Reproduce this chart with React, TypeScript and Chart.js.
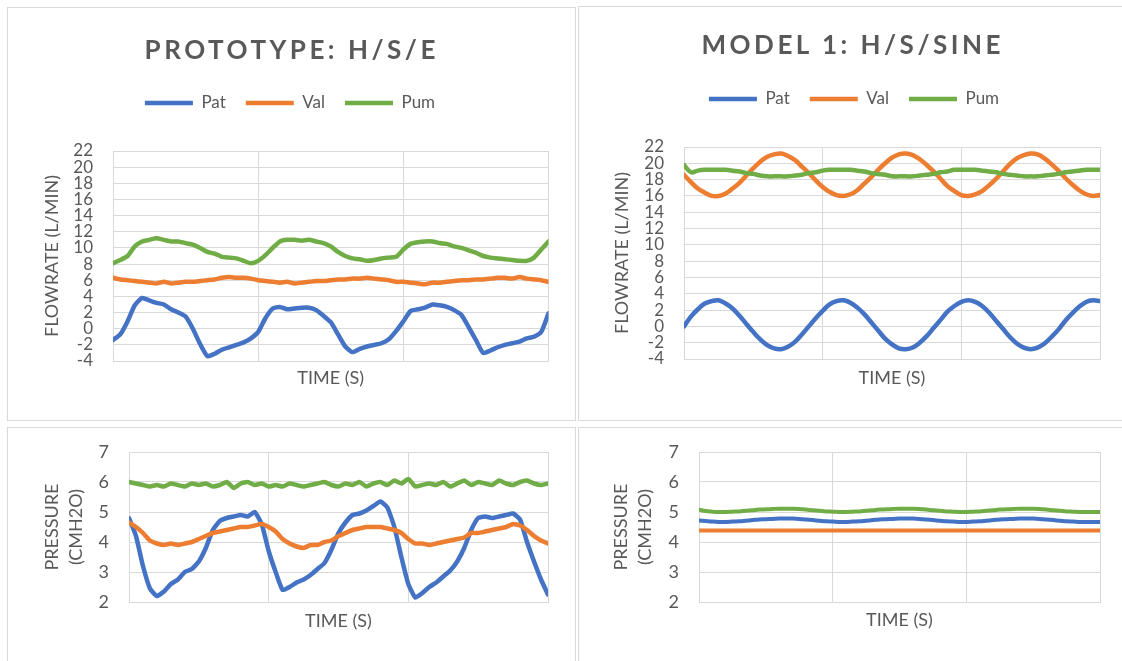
import React, { useEffect, useRef } from 'react';
import { Chart, registerables } from 'chart.js';

Chart.register(...registerables);

const FONT = 'Lato, "Open Sans", sans-serif';
const TEXT = '#595959';
const GRID = '#d9d9d9';
const COLORS = ['#4472C4', '#ED7D31', '#70AD47'];

// ---- data ----
const SERIES_NAMES = ['Pat', 'Val', 'Pum'];
const TIME_STEPS = Array.from({ length: 61 }, (_, i) => i);

const FLOW_MIN = -4, FLOW_MAX = 22, FLOW_STEP = 2;
const PRES_MIN = 2, PRES_MAX = 7, PRES_STEP = 1;

const PROTO_FLOW_PAT = [-1.4, -0.7, 0.9, 2.9, 3.8, 3.5, 3.2, 3.0, 2.4, 2.0, 1.5, 0.0, -1.9, -3.4, -3.1, -2.6, -2.3, -2.0, -1.7, -1.2, -0.4, 1.3, 2.5, 2.7, 2.4, 2.5, 2.6, 2.6, 2.3, 1.6, 0.8, -0.7, -2.2, -2.9, -2.5, -2.2, -2.0, -1.8, -1.3, -0.3, 0.9, 2.2, 2.4, 2.6, 3.0, 2.9, 2.7, 2.3, 1.7, 0.2, -1.4, -3.0, -2.7, -2.3, -2.0, -1.8, -1.6, -1.2, -1.0, -0.4, 1.9];
const PROTO_FLOW_VAL = [6.3, 6.1, 6.0, 5.9, 5.8, 5.7, 5.6, 5.8, 5.6, 5.7, 5.8, 5.8, 5.9, 6.0, 6.1, 6.3, 6.4, 6.3, 6.3, 6.2, 6.0, 5.9, 5.8, 5.7, 5.8, 5.6, 5.7, 5.8, 5.9, 5.9, 6.0, 6.1, 6.1, 6.2, 6.2, 6.3, 6.2, 6.1, 6.0, 5.8, 5.8, 5.7, 5.6, 5.5, 5.7, 5.7, 5.8, 5.9, 6.0, 6.0, 6.1, 6.1, 6.2, 6.3, 6.3, 6.2, 6.4, 6.2, 6.1, 6.0, 5.8];
const PROTO_FLOW_PUM = [8.1, 8.5, 9.0, 10.2, 10.8, 11.0, 11.2, 11.0, 10.8, 10.8, 10.6, 10.4, 10.0, 9.5, 9.3, 8.9, 8.8, 8.7, 8.4, 8.1, 8.4, 9.1, 10.0, 10.8, 11.0, 11.0, 10.9, 11.0, 10.8, 10.6, 10.2, 9.5, 9.0, 8.7, 8.6, 8.4, 8.5, 8.7, 8.8, 8.9, 9.8, 10.5, 10.7, 10.8, 10.8, 10.6, 10.5, 10.2, 10.0, 9.7, 9.4, 9.0, 8.8, 8.7, 8.6, 8.5, 8.4, 8.4, 8.8, 9.8, 10.8];

const MODEL_FLOW_PAT = [0.0, 1.2, 2.1, 2.8, 3.1, 3.2, 2.8, 2.2, 1.3, 0.3, -0.7, -1.6, -2.3, -2.7, -2.8, -2.5, -1.9, -1.0, 0.0, 1.0, 1.9, 2.7, 3.1, 3.2, 2.9, 2.3, 1.5, 0.5, -0.5, -1.5, -2.2, -2.7, -2.8, -2.6, -2.0, -1.2, -0.2, 0.8, 1.8, 2.5, 3.0, 3.2, 3.0, 2.5, 1.7, 0.7, -0.3, -1.3, -2.1, -2.6, -2.8, -2.6, -2.1, -1.3, -0.4, 0.7, 1.6, 2.4, 3.0, 3.2, 3.1];
const MODEL_FLOW_VAL = [18.6, 17.7, 16.9, 16.4, 16.0, 16.0, 16.3, 16.9, 17.6, 18.5, 19.4, 20.2, 20.8, 21.1, 21.2, 20.9, 20.4, 19.6, 18.8, 17.9, 17.1, 16.5, 16.1, 16.0, 16.2, 16.7, 17.5, 18.3, 19.2, 20.0, 20.7, 21.1, 21.2, 21.0, 20.5, 19.8, 19.0, 18.1, 17.2, 16.6, 16.1, 16.0, 16.2, 16.6, 17.3, 18.1, 19.0, 19.9, 20.6, 21.0, 21.2, 21.1, 20.6, 19.9, 19.1, 18.2, 17.4, 16.7, 16.2, 16.0, 16.1];
const MODEL_FLOW_PUM = [19.8, 18.9, 19.1, 19.2, 19.2, 19.2, 19.2, 19.1, 19.0, 18.8, 18.7, 18.5, 18.4, 18.4, 18.4, 18.4, 18.5, 18.6, 18.8, 18.9, 19.1, 19.2, 19.2, 19.2, 19.2, 19.1, 19.0, 18.8, 18.7, 18.6, 18.4, 18.4, 18.4, 18.4, 18.5, 18.6, 18.7, 18.9, 19.0, 19.2, 19.2, 19.2, 19.2, 19.1, 19.0, 18.9, 18.7, 18.6, 18.5, 18.4, 18.4, 18.4, 18.5, 18.6, 18.7, 18.9, 19.0, 19.1, 19.2, 19.2, 19.2];

const PROTO_PRES_PAT = [4.8, 4.2, 3.2, 2.45, 2.2, 2.35, 2.6, 2.75, 3.0, 3.1, 3.35, 3.8, 4.4, 4.7, 4.8, 4.85, 4.9, 4.85, 5.0, 4.6, 3.7, 3.0, 2.4, 2.5, 2.65, 2.75, 2.9, 3.1, 3.3, 3.75, 4.3, 4.65, 4.9, 4.95, 5.05, 5.2, 5.35, 5.15, 4.5, 3.5, 2.6, 2.15, 2.3, 2.5, 2.65, 2.85, 3.05, 3.35, 3.8, 4.4, 4.8, 4.85, 4.8, 4.85, 4.9, 4.95, 4.75, 4.0, 3.35, 2.75, 2.25];
const PROTO_PRES_VAL = [4.65, 4.5, 4.3, 4.05, 3.95, 3.9, 3.95, 3.9, 3.95, 4.0, 4.1, 4.2, 4.3, 4.35, 4.4, 4.45, 4.5, 4.5, 4.55, 4.6, 4.5, 4.35, 4.1, 3.95, 3.85, 3.8, 3.9, 3.9, 4.0, 4.05, 4.2, 4.3, 4.4, 4.45, 4.5, 4.5, 4.5, 4.45, 4.4, 4.3, 4.1, 3.95, 3.95, 3.9, 3.95, 4.0, 4.05, 4.1, 4.15, 4.3, 4.3, 4.35, 4.4, 4.45, 4.5, 4.6, 4.55, 4.4, 4.2, 4.05, 3.95];
const PROTO_PRES_PUM = [6.0, 5.95, 5.9, 5.85, 5.9, 5.85, 5.95, 5.9, 5.85, 5.95, 5.9, 5.95, 5.85, 5.9, 6.0, 5.8, 5.95, 6.0, 5.9, 5.95, 5.85, 5.9, 5.85, 5.95, 5.9, 5.85, 5.9, 5.95, 6.0, 5.9, 5.85, 5.95, 5.9, 6.0, 5.85, 5.95, 6.0, 5.9, 6.05, 5.95, 6.1, 5.85, 5.9, 5.95, 5.9, 6.0, 5.85, 5.95, 6.05, 5.9, 6.0, 5.95, 5.9, 6.05, 5.95, 5.9, 6.0, 6.05, 5.95, 5.9, 5.95];

const MODEL_PRES_PAT = [4.72, 4.7, 4.68, 4.67, 4.67, 4.68, 4.69, 4.71, 4.73, 4.75, 4.76, 4.77, 4.78, 4.78, 4.78, 4.77, 4.75, 4.73, 4.71, 4.69, 4.68, 4.67, 4.67, 4.68, 4.69, 4.71, 4.73, 4.75, 4.76, 4.77, 4.78, 4.78, 4.78, 4.77, 4.75, 4.73, 4.71, 4.69, 4.68, 4.67, 4.67, 4.68, 4.69, 4.71, 4.73, 4.75, 4.76, 4.77, 4.78, 4.78, 4.78, 4.77, 4.75, 4.73, 4.71, 4.69, 4.68, 4.67, 4.67, 4.67, 4.67];
const MODEL_PRES_VAL = [4.38, 4.38, 4.38, 4.38, 4.38, 4.38, 4.38, 4.38, 4.38, 4.38, 4.38, 4.38, 4.38, 4.38, 4.38, 4.38, 4.38, 4.38, 4.38, 4.38, 4.38, 4.38, 4.38, 4.38, 4.38, 4.38, 4.38, 4.38, 4.38, 4.38, 4.38, 4.38, 4.38, 4.38, 4.38, 4.38, 4.38, 4.38, 4.38, 4.38, 4.38, 4.38, 4.38, 4.38, 4.38, 4.38, 4.38, 4.38, 4.38, 4.38, 4.38, 4.38, 4.38, 4.38, 4.38, 4.38, 4.38, 4.38, 4.38, 4.38, 4.38];
const MODEL_PRES_PUM = [5.08, 5.03, 5.01, 5.0, 5.0, 5.01, 5.02, 5.04, 5.06, 5.08, 5.09, 5.1, 5.11, 5.11, 5.11, 5.1, 5.08, 5.06, 5.04, 5.02, 5.01, 5.0, 5.0, 5.01, 5.02, 5.04, 5.06, 5.08, 5.09, 5.1, 5.11, 5.11, 5.11, 5.1, 5.08, 5.06, 5.04, 5.02, 5.01, 5.0, 5.0, 5.01, 5.02, 5.04, 5.06, 5.08, 5.09, 5.1, 5.11, 5.11, 5.11, 5.1, 5.08, 5.06, 5.04, 5.02, 5.01, 5.0, 5.0, 5.0, 5.0];

type Spec = {
  left: number; top: number; width: number; height: number;
  plotLeft: number; plotRight: number; plotTop: number; plotBottom: number;
  padLeft: number;
  legendCenterY: number | null;
  yMin: number; yMax: number; yStep: number; tickSize: number;
  yTitle: string | string[]; yTitleSize: number; yTitleLH: number; yTitleCenterX: number;
  xTitleCenterY: number;
  series: number[][];
  tension: number;
  lineWidth: number;
  title?: { text: string; cx: number; cy: number };
};

const LEGEND_FONT = 17;
const LEGEND_PAD = 20;

function buildConfig(s: Spec): any {
  const yAxisWidth = s.plotLeft - s.padLeft;
  const xAxisHeight = s.height - s.plotBottom;
  const yTitleLine = s.yTitleSize * s.yTitleLH;
  const yTitlePad = s.yTitleCenterX - s.padLeft - yTitleLine / 2;
  const xTitleLine = 18 * 1.2;
  const xTitlePad = s.height - s.xTitleCenterY - xTitleLine / 2;
  const hasLegend = s.legendCenterY !== null;
  const legendTop = hasLegend ? (s.legendCenterY as number) - LEGEND_PAD - LEGEND_FONT / 2 : 0;
  // extra space below the legend so that the plot starts at plotTop
  const legendExtra = hasLegend ? s.plotTop - (legendTop + LEGEND_FONT + LEGEND_PAD + 10) : 0;

  const legendGap = {
    id: 'legendGap',
    beforeInit(chart: any) {
      const lg = chart.legend;
      if (!lg || !hasLegend) return;
      const origFit = lg.fit;
      lg.fit = function () {
        origFit.call(this);
        this.height += legendExtra;
      };
    },
  };

  return {
    type: 'line',
    plugins: [legendGap],
    data: {
      labels: TIME_STEPS,
      datasets: s.series.map((d, i) => ({
        label: SERIES_NAMES[i],
        data: d,
        borderColor: COLORS[i],
        backgroundColor: COLORS[i],
        borderWidth: s.lineWidth,
        pointRadius: 0,
        tension: s.tension,
        borderCapStyle: 'round',
        borderJoinStyle: 'round',
        fill: false,
        order: 3 - i,
      })),
    },
    options: {
      responsive: false,
      animation: false,
      devicePixelRatio: 1,
      events: [],
      layout: { padding: { left: s.padLeft, right: s.width - s.plotRight, top: legendTop, bottom: 0 } },
      plugins: {
        title: { display: false },
        tooltip: { enabled: false },
        legend: hasLegend
          ? {
              display: true,
              position: 'top',
              align: 'center',
              labels: {
                usePointStyle: true,
                pointStyle: 'line',
                pointStyleWidth: 48,
                padding: LEGEND_PAD,
                color: TEXT,
                font: { family: FONT, size: LEGEND_FONT },
                sort: (a: any, b: any) => a.datasetIndex - b.datasetIndex,
              },
            }
          : { display: false },
      },
      scales: {
        x: {
          type: 'linear',
          min: 0,
          max: 60,
          ticks: { display: false, stepSize: 20 },
          grid: { color: GRID, lineWidth: 1, drawTicks: false },
          border: { color: GRID },
          title: {
            display: true,
            text: 'TIME (S)',
            color: TEXT,
            font: { family: FONT, size: 18, lineHeight: 1.2 },
            padding: { top: 0, bottom: xTitlePad },
          },
          afterFit: (sc: any) => { sc.height = xAxisHeight; },
        },
        y: {
          min: s.yMin,
          max: s.yMax,
          ticks: { stepSize: s.yStep, autoSkip: false, padding: 20, color: TEXT, font: { family: FONT, size: s.tickSize } },
          grid: { color: GRID, lineWidth: 1, drawTicks: false },
          border: { color: GRID },
          title: {
            display: true,
            text: s.yTitle,
            color: TEXT,
            font: { family: FONT, size: s.yTitleSize, lineHeight: s.yTitleLH },
            padding: { top: yTitlePad, bottom: 0 },
          },
          afterFit: (sc: any) => {
            sc.width = yAxisWidth;
            if (!hasLegend) sc.paddingTop = s.plotTop;
          },
        },
      },
    },
  };
}

function Panel({ spec }: { spec: Spec }) {
  const ref = useRef<HTMLCanvasElement>(null);
  useEffect(() => {
    const chart = new Chart(ref.current as HTMLCanvasElement, buildConfig(spec));
    return () => chart.destroy();
  }, []);
  return (
    <>
      <div style={{ position: 'absolute', left: spec.left, top: spec.top, width: spec.width, height: spec.height, border: '1px solid #d9d9d9', boxSizing: 'border-box' }} />
      <canvas ref={ref} width={spec.width} height={spec.height} style={{ position: 'absolute', left: spec.left, top: spec.top, width: spec.width, height: spec.height }} />
      {spec.title && (
        <div style={{ position: 'absolute', left: spec.title.cx - 300, width: 600, top: spec.title.cy - 16, height: 32, lineHeight: '32px', textAlign: 'center', fontFamily: FONT, fontWeight: 700, fontSize: 26, letterSpacing: '3.5px', paddingLeft: 3.5, boxSizing: 'border-box', color: TEXT, whiteSpace: 'nowrap' }}>
          {spec.title.text}
        </div>
      )}
    </>
  );
}

const PANELS: Spec[] = [
  {
    left: 7, top: 7, width: 569, height: 414,
    plotLeft: 106, plotRight: 541.5, plotTop: 144, plotBottom: 354, padLeft: 24.5,
    legendCenterY: 96,
    yMin: FLOW_MIN, yMax: FLOW_MAX, yStep: FLOW_STEP, tickSize: 17,
    yTitle: 'FLOWRATE (L/MIN)', yTitleSize: 18, yTitleLH: 1.2, yTitleCenterX: 45.3,
    xTitleCenterY: 371,
    series: [PROTO_FLOW_PAT, PROTO_FLOW_VAL, PROTO_FLOW_PUM],
    tension: 0.2, lineWidth: 4.5,
    title: { text: 'PROTOTYPE: H/S/E', cx: 290, cy: 48.5 },
  },
  {
    left: 578, top: 6, width: 550, height: 415,
    plotLeft: 106, plotRight: 522, plotTop: 141, plotBottom: 353, padLeft: 30,
    legendCenterY: 93,
    yMin: FLOW_MIN, yMax: FLOW_MAX, yStep: FLOW_STEP, tickSize: 17,
    yTitle: 'FLOWRATE (L/MIN)', yTitleSize: 18, yTitleLH: 1.2, yTitleCenterX: 44,
    xTitleCenterY: 372,
    series: [MODEL_FLOW_PAT, MODEL_FLOW_VAL, MODEL_FLOW_PUM],
    tension: 0.4, lineWidth: 4.5,
    title: { text: 'MODEL 1: H/S/SINE', cx: 851, cy: 44 },
  },
  {
    left: 7, top: 427, width: 569, height: 240,
    plotLeft: 122, plotRight: 541, plotTop: 25, plotBottom: 175, padLeft: 0,
    legendCenterY: null,
    yMin: PRES_MIN, yMax: PRES_MAX, yStep: PRES_STEP, tickSize: 18,
    yTitle: ['PRESSURE', '(CMH2O)'], yTitleSize: 18, yTitleLH: 1.35, yTitleCenterX: 45,
    xTitleCenterY: 194,
    series: [PROTO_PRES_PAT, PROTO_PRES_VAL, PROTO_PRES_PUM],
    tension: 0.15, lineWidth: 4.5,
  },
  {
    left: 578, top: 427, width: 550, height: 240,
    plotLeft: 121, plotRight: 522, plotTop: 25, plotBottom: 175, padLeft: 0,
    legendCenterY: null,
    yMin: PRES_MIN, yMax: PRES_MAX, yStep: PRES_STEP, tickSize: 18,
    yTitle: ['PRESSURE', '(CMH2O)'], yTitleSize: 18, yTitleLH: 1.35, yTitleCenterX: 43,
    xTitleCenterY: 193,
    series: [MODEL_PRES_PAT, MODEL_PRES_VAL, MODEL_PRES_PUM],
    tension: 0.4, lineWidth: 4,
  },
];

export default function App() {
  return (
    <div style={{ position: 'absolute', left: 0, top: 0, width: 1122, height: 661, background: '#ffffff', overflow: 'hidden' }}>
      {PANELS.map((p, i) => <Panel key={i} spec={p} />)}
    </div>
  );
}
